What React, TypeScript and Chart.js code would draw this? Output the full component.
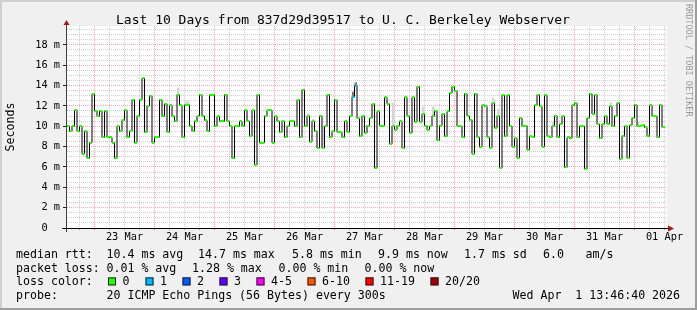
import React, { useEffect, useRef } from 'react';
import { Chart, registerables } from 'chart.js';

Chart.register(...registerables);

// ---------- data ----------
const chartTitle = 'Last 10 Days from 837d29d39517 to U. C. Berkeley Webserver';
const watermarkText = 'RRDTOOL / TOBI OETIKER';
const yAxisTitle = 'Seconds';

// hourly median round-trip time (ms), one value per hour of the 10 day window
const medianRttMs = [
  10.0, 9.5, 10.0, 11.55, 9.5, 10.0, 7.3, 9.5, 6.84, 8.4, 13.16, 11.5, 10.96, 11.5, 8.9, 11.5, 8.9, 8.9, 8.4, 6.84, 10.0, 9.5, 10.57, 11.55,
  8.9, 9.5, 12.6, 8.4, 11.03, 12.6, 14.7, 9.4, 12.0, 13.0, 8.4, 8.9, 8.9, 12.6, 10.96, 12.2, 9.43, 12.05, 10.96, 10.47, 13.1, 12.05, 8.9, 12.1,
  12.1, 10.0, 9.5, 10.47, 11.0, 13.1, 11.0, 10.57, 9.5, 13.1, 13.1, 10.0, 10.96, 10.47, 10.47, 13.1, 10.47, 10.0, 6.84, 10.0, 10.0, 10.47, 10.0, 11.55,
  10.47, 9.0, 11.55, 6.22, 13.1, 8.4, 8.4, 11.0, 11.55, 11.55, 8.4, 10.96, 10.47, 9.4, 10.47, 8.9, 10.0, 10.47, 10.47, 10.0, 12.6, 8.9, 13.58, 10.0,
  11.0, 8.5, 10.47, 9.5, 7.86, 11.0, 7.86, 10.0, 13.1, 8.9, 9.5, 12.6, 9.4, 9.4, 8.9, 10.47, 9.43, 10.96, 12.9, 14.0, 10.77, 9.0, 11.0, 9.35,
  10.07, 10.77, 12.2, 5.9, 11.45, 10.07, 10.07, 12.83, 12.2, 8.28, 10.0, 9.66, 10.07, 10.47, 7.86, 12.83, 11.0, 9.35, 12.83, 10.44, 13.9, 10.44, 11.2, 10.07,
  9.66, 10.0, 11.0, 11.5, 8.6, 10.07, 11.2, 9.0, 11.45, 13.26, 13.9, 13.5, 10.0, 10.0, 8.9, 13.2, 11.0, 10.64, 7.3, 13.2, 8.9, 7.95, 12.05, 11.95,
  8.9, 7.9, 12.27, 9.85, 11.0, 5.92, 13.06, 9.0, 13.06, 10.0, 8.0, 8.8, 6.9, 10.8, 10.0, 10.07, 7.69, 9.0, 8.9, 12.05, 13.1, 11.95, 8.0, 13.03,
  9.0, 8.9, 10.0, 11.0, 8.9, 10.2, 10.96, 5.95, 8.9, 8.8, 12.05, 12.27, 8.9, 10.0, 10.0, 5.8, 10.8, 13.2, 11.2, 13.06, 10.2, 8.8, 10.2, 10.96,
  10.2, 11.95, 10.0, 11.0, 12.27, 6.78, 9.0, 10.0, 6.87, 10.1, 10.8, 12.1, 10.0, 10.0, 10.1, 9.88, 9.0, 12.05, 11.0, 11.0, 8.9, 12.1, 9.88,
];

// hours where pings were lost (hour -> lost pings out of 20)
const lostPingsByHour: Record<number, number> = { 114: 1, 115: 1 };

// smoke (spread of the 20 pings): [hour, low ms, high ms]
const smokeLight: [number, number, number][] = [
  [44, 13.1, 13.8], [47, 12.1, 12.45], [48, 12.1, 12.45], [96, 11.0, 11.25], [98, 10.47, 10.7],
  [102, 7.86, 10.0], [130, 10.0, 12.3], [142, 11.2, 11.9], [146, 11.0, 11.95], [170, 12.27, 12.8],
  [172, 11.0, 11.7], [194, 10.0, 10.4], [217, 11.95, 12.35], [228, 10.0, 10.4],
];
const smokeDark: [number, number, number][] = [[114, 12.9, 13.4], [115, 14.0, 14.3]];

const totalHours = 240;
const firstMidnightHour = 11;
const dayLabels = ['23 Mar', '24 Mar', '25 Mar', '26 Mar', '27 Mar', '28 Mar', '29 Mar', '30 Mar', '31 Mar', '01 Apr'];
const yTickLabels = ['0  ', '2 m', '4 m', '6 m', '8 m', '10 m', '12 m', '14 m', '16 m', '18 m'];
const yLabelStepMs = 2;
const yMinorStepMs = 0.5;
const yMaxMs = 19.85;

const rttStats = { avg: '10.4', max: '14.7', min: '5.8', now: '9.9', sd: '1.7', amPerSec: '6.0' };
const lossStats = { avg: '0.01', max: '1.28', min: '0.00', now: '0.00' };
const lossLegend = [
  { label: '0', color: '#26ff00' },
  { label: '1', color: '#00b8ff' },
  { label: '2', color: '#0059ff' },
  { label: '3', color: '#5e00ff' },
  { label: '4-5', color: '#ff00ff' },
  { label: '6-10', color: '#ff5500' },
  { label: '11-19', color: '#ff0000' },
  { label: '20/20', color: '#a10000' },
];
const probeText = '20 ICMP Echo Pings (56 Bytes) every 300s';
const stampText = 'Wed Apr  1 13:46:40 2026';

// ---------- styles ----------
const MONO = '"DejaVu Sans Mono", monospace';
const GRID_MINOR = 'rgba(150,150,150,0.45)';
const GRID_MAJOR = 'rgba(235,90,90,0.5)';

function lossColor(lost: number): string {
  if (lost <= 0) return lossLegend[0].color;
  if (lost <= 3) return lossLegend[lost].color;
  if (lost <= 5) return lossLegend[4].color;
  if (lost <= 10) return lossLegend[5].color;
  if (lost <= 19) return lossLegend[6].color;
  return lossLegend[7].color;
}

const isDayBoundary = (h: number) => (h - firstMidnightHour) % 24 === 0;

const rrdPlugin = {
  id: 'rrdLook',
  beforeDraw(chart: any) {
    const { ctx, chartArea: a, width, height } = chart;
    ctx.save();
    ctx.fillStyle = '#f0f0f0';
    ctx.fillRect(0, 0, width, height);
    ctx.fillStyle = '#cfcfcf';
    ctx.fillRect(0, 0, width, 2);
    ctx.fillRect(0, 0, 2, height);
    ctx.fillStyle = '#9e9e9e';
    ctx.fillRect(0, height - 2, width, 2);
    ctx.fillRect(width - 2, 0, 2, height);
    ctx.fillStyle = '#ffffff';
    ctx.fillRect(a.left, a.top, a.right - a.left, a.bottom - a.top);
    ctx.restore();
  },
  beforeDatasetsDraw(chart: any) {
    const { ctx } = chart;
    const xs = chart.scales.x;
    const ys = chart.scales.y;
    ctx.save();
    const paint = (bands: [number, number, number][], color: string) => {
      ctx.fillStyle = color;
      bands.forEach(([h, lo, hi]) => {
        const x0 = xs.getPixelForValue(h);
        const x1 = xs.getPixelForValue(h + 1);
        const y0 = ys.getPixelForValue(hi);
        const y1 = ys.getPixelForValue(lo);
        ctx.fillRect(x0, y0, x1 - x0, y1 - y0);
      });
    };
    paint(smokeLight, '#d6d6d6');
    paint(smokeDark, '#7a7a7a');
    ctx.restore();
  },
  afterDatasetsDraw(chart: any) {
    const { ctx, chartArea: a } = chart;
    const xs = chart.scales.x;
    const ys = chart.scales.y;
    ctx.save();
    // loss-coloured median marks
    medianRttMs.forEach((v, i) => {
      const x0 = xs.getPixelForValue(i);
      const x1 = xs.getPixelForValue(i + 1);
      const y = Math.round(ys.getPixelForValue(v));
      ctx.fillStyle = lossColor(lostPingsByHour[i] ?? 0);
      ctx.fillRect(x0, y - 1, x1 - x0, 2);
    });
    // axes
    const ax = Math.round(a.left) - 1;
    const ay = Math.round(a.bottom);
    ctx.fillStyle = '#000000';
    ctx.fillRect(ax - 4, ay, a.right - a.left + 6, 1);
    ctx.fillStyle = '#404040';
    ctx.fillRect(ax, a.top - 1, 1, ay - a.top + 5);
    ctx.fillStyle = '#9c1a1a';
    ctx.beginPath();
    ctx.moveTo(a.right + 1, ay - 2.5);
    ctx.lineTo(a.right + 7, ay + 0.5);
    ctx.lineTo(a.right + 1, ay + 3.5);
    ctx.closePath();
    ctx.fill();
    ctx.beginPath();
    ctx.moveTo(ax - 2.5, a.top - 1);
    ctx.lineTo(ax + 0.5, a.top - 6);
    ctx.lineTo(ax + 3.5, a.top - 1);
    ctx.closePath();
    ctx.fill();
    ctx.restore();
  },
  afterDraw(chart: any) {
    const { ctx, width, chartArea: a } = chart;
    ctx.save();
    ctx.fillStyle = '#000000';
    ctx.textAlign = 'left';
    ctx.textBaseline = 'alphabetic';
    // title
    ctx.font = `13px ${MONO}`;
    ctx.fillText(chartTitle, 116, 24);
    // legend
    ctx.font = `11.6px ${MONO}`;
    const r1 = 257.8, r2 = 271.6, r3 = 285.4, r4 = 299.2;
    ctx.fillText('median rtt:', 16, r1);
    ctx.fillText(`${rttStats.avg} ms avg`, 106.5, r1);
    ctx.fillText(`${rttStats.max} ms max`, 198, r1);
    ctx.fillText(`${rttStats.min} ms min`, 292, r1);
    ctx.fillText(`${rttStats.now} ms now`, 378, r1);
    ctx.fillText(`${rttStats.sd} ms sd`, 464, r1);
    ctx.fillText(rttStats.amPerSec, 543, r1);
    ctx.fillText('am/s', 585.5, r1);
    ctx.fillText('packet loss:', 16, r2);
    ctx.fillText(`${lossStats.avg} % avg`, 106.5, r2);
    ctx.fillText(`${lossStats.max} % max`, 192, r2);
    ctx.fillText(`${lossStats.min} % min`, 278.5, r2);
    ctx.fillText(`${lossStats.now} % now`, 364.5, r2);
    ctx.fillText('loss color:', 16, r3);
    const boxX = [108, 145.5, 182.5, 219.5, 256.5, 307.5, 365.5, 430.5];
    lossLegend.forEach((item, i) => {
      ctx.fillStyle = item.color;
      ctx.fillRect(boxX[i], r3 - 8, 8, 8);
      ctx.strokeStyle = '#202020';
      ctx.lineWidth = 1;
      ctx.strokeRect(boxX[i] + 0.5, r3 - 7.5, 7, 7);
      ctx.fillStyle = '#000000';
      ctx.fillText(item.label, boxX[i] + 14.5, r3);
    });
    ctx.fillText('probe:', 16, r4);
    ctx.fillText(probeText, 106.5, r4);
    ctx.fillText(stampText, 512.5, r4);
    // y axis title
    ctx.save();
    ctx.translate(11, (a.top + a.bottom) / 2);
    ctx.rotate(-Math.PI / 2);
    ctx.textAlign = 'center';
    ctx.textBaseline = 'middle';
    ctx.fillText(yAxisTitle, 0, 0);
    ctx.restore();
    // watermark
    ctx.save();
    ctx.translate(width - 9, 4);
    ctx.rotate(Math.PI / 2);
    ctx.textAlign = 'left';
    ctx.textBaseline = 'middle';
    ctx.font = `8.5px ${MONO}`;
    ctx.fillStyle = 'rgba(0,0,0,0.38)';
    ctx.fillText(watermarkText, 0, 0);
    ctx.restore();
    ctx.restore();
  },
};

export default function App() {
  const canvasRef = useRef<HTMLCanvasElement | null>(null);

  useEffect(() => {
    const canvas = canvasRef.current;
    if (!canvas) return;
    const points = medianRttMs.map((v, i) => ({ x: i, y: v }));
    points.push({ x: medianRttMs.length, y: medianRttMs[medianRttMs.length - 1] });

    const chart = new Chart(canvas, {
      type: 'line',
      data: {
        datasets: [
          {
            label: 'median rtt',
            data: points,
            borderColor: '#000000',
            borderWidth: 1,
            pointRadius: 0,
            stepped: 'before',
            fill: false,
          },
        ],
      },
      options: {
        animation: false,
        responsive: false,
        devicePixelRatio: 1,
        layout: { padding: { left: 0, right: 30, top: 26, bottom: 0 } },
        plugins: { legend: { display: false }, title: { display: false }, tooltip: { enabled: false } },
        scales: {
          x: {
            type: 'linear',
            min: 0,
            max: totalHours,
            afterBuildTicks: (scale: any) => {
              const ticks = [];
              for (let h = firstMidnightHour - 6; h <= totalHours; h += 6) {
                if (h >= 0) ticks.push({ value: h });
              }
              scale.ticks = ticks;
            },
            afterFit: (scale: any) => {
              scale.height = 82;
            },
            grid: {
              color: (ctx: any) => (ctx.tick && isDayBoundary(ctx.tick.value) ? GRID_MAJOR : GRID_MINOR),
              tickColor: (ctx: any) => (ctx.tick && isDayBoundary(ctx.tick.value) ? 'rgba(220,40,40,0.8)' : 'rgba(120,120,120,0.7)'),
              tickLength: 2,
              lineWidth: 1,
            },
            border: { display: false, dash: [1, 1] },
            ticks: {
              autoSkip: false,
              maxRotation: 0,
              minRotation: 0,
              padding: 1,
              color: '#000000',
              font: { family: MONO, size: 10.3 },
              callback: (value: any) => {
                const d = (Number(value) - firstMidnightHour - 12) / 24;
                return Number.isInteger(d) && d >= 0 && d < dayLabels.length ? dayLabels[d] : '';
              },
            },
          },
          y: {
            type: 'linear',
            min: 0,
            max: yMaxMs,
            afterBuildTicks: (scale: any) => {
              const ticks = [];
              for (let i = 0; i * yMinorStepMs < yMaxMs; i++) ticks.push({ value: i * yMinorStepMs });
              scale.ticks = ticks;
            },
            afterFit: (scale: any) => {
              scale.width = 67;
            },
            grid: {
              color: (ctx: any) => (ctx.tick && ctx.tick.value % yLabelStepMs === 0 ? GRID_MAJOR : GRID_MINOR),
              tickColor: (ctx: any) => (ctx.tick && ctx.tick.value % yLabelStepMs === 0 ? '#202020' : 'rgba(0,0,0,0)'),
              tickLength: 4,
              lineWidth: 1,
            },
            border: { display: false, dash: [1, 1] },
            ticks: {
              autoSkip: false,
              padding: 3,
              color: '#000000',
              font: { family: MONO, size: 10.3 },
              callback: (value: any) => {
                const v = Number(value);
                if (v % yLabelStepMs !== 0) return '';
                return yTickLabels[v / yLabelStepMs] ?? '';
              },
            },
          },
        },
      },
      plugins: [rrdPlugin],
    } as any);

    return () => chart.destroy();
  }, []);

  return (
    <div style={{ position: 'absolute', left: 0, top: 0, width: 697, height: 310 }}>
      <canvas ref={canvasRef} width={697} height={310} style={{ display: 'block', width: 697, height: 310 }} />
    </div>
  );
}
